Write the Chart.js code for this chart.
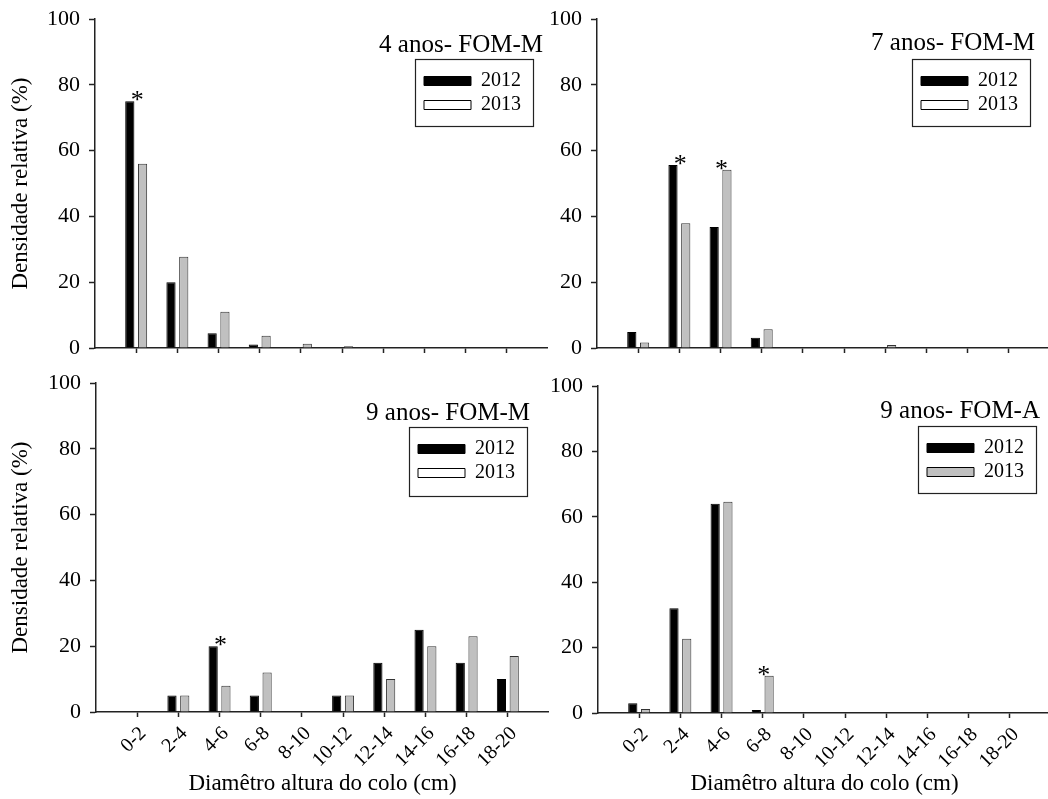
<!DOCTYPE html>
<html>
<head>
<meta charset="utf-8">
<script src="https://cdn.jsdelivr.net/npm/chart.js@4.4.1/dist/chart.umd.min.js"></script>
<style>
  html, body { margin: 0; padding: 0; background: #fff; overflow: hidden; }
  body { width: 1048px; height: 799px; position: relative; }
  canvas { position: absolute; }
</style>
</head>
<body>
<canvas id="tl" width="548" height="360" style="left:0px;top:0px"></canvas>
<canvas id="tr" width="548" height="360" style="left:502px;top:0px"></canvas>
<canvas id="bl" width="549" height="439" style="left:0px;top:360px"></canvas>
<canvas id="br" width="548" height="439" style="left:503px;top:360px"></canvas>
<script>
// classes de diametro
const classes = ['0-2', '2-4', '4-6', '6-8', '8-10', '10-12', '12-14', '14-16', '16-18', '18-20'];
const years = ['2012', '2013'];

// 4 anos FOM-M
const fomM4_2012 = [75, 20, 4.5, 1.1, 0, 0, 0, 0, 0, 0];
const fomM4_2013 = [56, 27.7, 11, 3.7, 1.3, 0.5, 0, 0, 0, 0];
// 7 anos FOM-M
const fomM7_2012 = [4.9, 55.6, 36.8, 3.1, 0, 0, 0, 0, 0, 0];
const fomM7_2013 = [1.7, 37.9, 54.2, 5.7, 0, 0, 0.9, 0, 0, 0];
// 9 anos FOM-M
const fomM9_2012 = [0, 5, 20, 5, 0, 5, 15, 25, 15, 10];
const fomM9_2013 = [0, 5, 8, 12, 0, 5, 10, 20, 23, 17];
// 9 anos FOM-A
const fomA9_2012 = [3, 32, 64, 0.9, 0, 0, 0, 0, 0, 0];
const fomA9_2013 = [1.2, 22.7, 64.6, 11.4, 0, 0, 0, 0, 0, 0];

// classes com diferenca significativa (*)
const stars4M = ['0-2'];
const stars7M = ['2-4', '4-6'];
const stars9M = ['4-6'];
const stars9A = ['6-8'];

const yTicks = [0, 20, 40, 60, 80, 100];

const FONT = '"Liberation Serif", "Times New Roman", serif';
Chart.defaults.font.family = FONT;
Chart.defaults.color = '#000';

// eixo x com uma classe vazia em cada ponta
const axisLabels = [''].concat(classes, ['']);
function pad(arr) { return [null].concat(arr, [null]); }

// titulo, legenda com moldura e asteriscos
const panelDecor = {
  id: 'panelDecor',
  afterLayout(chart, args, opts) {
    const a = chart.chartArea, lg = chart.legend, r = opts.legendBox;
    const left = a.left + r.x, top = a.top + r.y;
    lg.left = left + 5; lg.top = top + 8;
    lg.right = left + r.w; lg.bottom = top + r.h;
    lg.width = lg.right - lg.left; lg.height = lg.bottom - lg.top;
  },
  afterDraw(chart, args, opts) {
    const ctx = chart.ctx, a = chart.chartArea, r = opts.legendBox;
    ctx.save();
    ctx.strokeStyle = '#222';
    ctx.lineWidth = 1.2;
    ctx.strokeRect(Math.round(a.left + r.x) + 0.5, Math.round(a.top + r.y) + 0.5, r.w, r.h);

    ctx.fillStyle = '#000';
    ctx.font = '25px ' + FONT;
    ctx.textAlign = 'right';
    ctx.textBaseline = 'alphabetic';
    ctx.fillText(opts.title, a.left + opts.titleX, a.top + opts.titleY);

    ctx.font = '26px ' + FONT;
    ctx.textAlign = 'center';
    const labels = chart.data.labels;
    opts.stars.forEach(cat => {
      const i = labels.indexOf(cat);
      const x = chart.scales.x.getPixelForValue(i);
      let top = Infinity;
      chart.data.datasets.forEach((ds, d) => {
        const el = chart.getDatasetMeta(d).data[i];
        if (el) top = Math.min(top, el.y);
      });
      ctx.fillText('*', x + 1, top + 7);
    });
    ctx.restore();
  }
};

function makeChart(id, p) {
  const last = axisLabels.length - 1;
  return new Chart(document.getElementById(id), {
    type: 'bar',
    data: {
      labels: axisLabels,
      datasets: [{
        label: years[0],
        data: pad(p.v2012),
        backgroundColor: '#000',
        borderColor: '#000',
        borderWidth: 1,
        barPercentage: 0.72,
        categoryPercentage: 0.62
      }, {
        label: years[1],
        data: pad(p.v2013),
        backgroundColor: '#c0c0c0',
        borderColor: '#333',
        borderWidth: 1,
        barPercentage: 0.72,
        categoryPercentage: 0.62
      }]
    },
    options: {
      responsive: false,
      animation: false,
      events: [],
      layout: { autoPadding: false, padding: { left: 0, right: 0, top: p.padTop, bottom: 0 } },
      scales: {
        x: {
          type: 'category',
          offset: false,
          grid: {
            offset: false,
            drawOnChartArea: false,
            drawTicks: true,
            tickLength: 5,
            tickWidth: 1.5,
            tickColor: c => (c.index === 0 || c.index === last) ? 'rgba(0,0,0,0)' : '#222'
          },
          border: { display: true, color: '#222', width: 1.5 },
          ticks: {
            display: p.showX,
            autoSkip: false,
            maxRotation: 45,
            minRotation: 45,
            padding: 5,
            labelOffset: 6,
            color: '#000',
            font: { size: 20 },
            callback: (v, i) => axisLabels[i]
          },
          title: {
            display: p.showX,
            text: 'Diamêtro altura do colo (cm)',
            color: '#000',
            font: { size: 23 },
            padding: { top: 0, bottom: 1 }
          },
          afterFit: s => {
            s.height = p.xH;
            s.paddingLeft = 0;
            s.paddingRight = 0;
          }
        },
        y: {
          min: 0,
          max: 100,
          afterBuildTicks: s => { s.ticks = yTicks.map(v => ({ value: v })); },
          grid: { drawOnChartArea: false, tickLength: 6, tickWidth: 1.5, tickColor: '#222' },
          border: { display: true, color: '#222', width: 1.5 },
          ticks: { padding: 9, color: '#000', font: { size: 22 } },
          title: {
            display: p.showY,
            text: 'Densidade relativa (%)',
            color: '#000',
            font: { size: 23 },
            padding: { top: 7, bottom: 0 }
          },
          afterFit: s => {
            s.width = p.yW;
            s.paddingTop = 0;
            s.paddingBottom = 0;
          }
        }
      },
      plugins: {
        tooltip: { enabled: false },
        legend: {
          position: 'chartArea',
          align: 'start',
          labels: {
            boxWidth: 47,
            boxHeight: 9,
            padding: 4,
            color: '#000',
            font: { size: 20 },
            generateLabels(chart) {
              const items = Chart.defaults.plugins.legend.labels.generateLabels(chart);
              items.forEach((it, k) => {
                it.fillStyle = p.swatch[k];
                it.strokeStyle = '#000';
                it.lineWidth = 1;
              });
              return items;
            }
          }
        },
        panelDecor: {
          title: p.title,
          titleX: p.titleX,
          titleY: p.titleY,
          stars: p.stars,
          legendBox: p.legendBox
        }
      }
    },
    plugins: [panelDecor]
  });
}

makeChart('tl', {
  v2012: fomM4_2012, v2013: fomM4_2013, stars: stars4M,
  title: '4 anos- FOM-M', titleX: 448, titleY: 33,
  legendBox: { x: 320, y: 40, w: 118, h: 67 },
  swatch: ['#000', '#fff'],
  showX: false, showY: true, padTop: 19, xH: 12, yW: 95
});
makeChart('tr', {
  v2012: fomM7_2012, v2013: fomM7_2013, stars: stars7M,
  title: '7 anos- FOM-M', titleX: 438, titleY: 31,
  legendBox: { x: 315, y: 40, w: 118, h: 67 },
  swatch: ['#000', '#fff'],
  showX: false, showY: false, padTop: 19, xH: 12, yW: 95
});
makeChart('bl', {
  v2012: fomM9_2012, v2013: fomM9_2013, stars: stars9M,
  title: '9 anos- FOM-M', titleX: 434, titleY: 37,
  legendBox: { x: 313, y: 44, w: 118, h: 69 },
  swatch: ['#000', '#fff'],
  showX: true, showY: true, padTop: 23, xH: 87, yW: 96
});
makeChart('br', {
  v2012: fomA9_2012, v2013: fomA9_2013, stars: stars9A,
  title: '9 anos- FOM-A', titleX: 442, titleY: 32,
  legendBox: { x: 320, y: 40, w: 118, h: 67 },
  swatch: ['#000', '#c0c0c0'],
  showX: true, showY: false, padTop: 26, xH: 86, yW: 95
});
</script>
</body>
</html>
